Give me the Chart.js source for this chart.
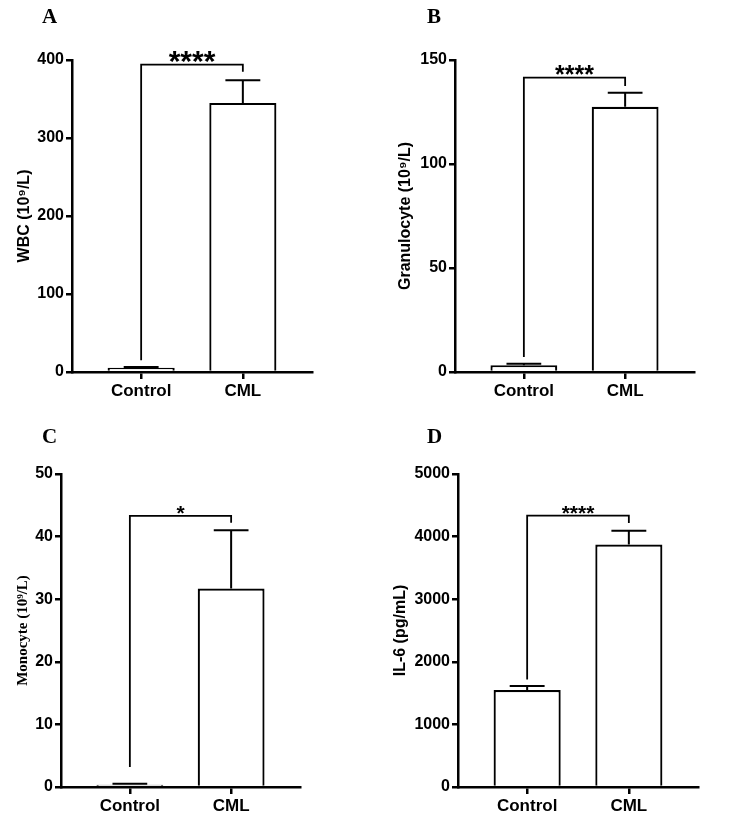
<!DOCTYPE html>
<html>
<head>
<meta charset="utf-8">
<script src="https://cdn.jsdelivr.net/npm/chart.js@4/dist/chart.umd.min.js"></script>
<style>
  body { margin: 0; background: #fff; }
  #wrap { position: relative; width: 750px; height: 824px; }
  .panel { position: absolute; }
  .letter { position: absolute; font: bold 21px "Liberation Serif", "Times New Roman", serif; color: #000; }
</style>
</head>
<body>
<div id="wrap">
  <canvas class="panel" id="chartA" width="375" height="410" style="left:0;top:0"></canvas>
  <canvas class="panel" id="chartB" width="375" height="410" style="left:375px;top:0"></canvas>
  <canvas class="panel" id="chartC" width="375" height="414" style="left:0;top:410px"></canvas>
  <canvas class="panel" id="chartD" width="375" height="414" style="left:375px;top:410px"></canvas>
  <div class="letter" style="left:42px;top:4px">A</div>
  <div class="letter" style="left:427px;top:4px">B</div>
  <div class="letter" style="left:42px;top:424px">C</div>
  <div class="letter" style="left:427px;top:424px">D</div>
</div>
<script>
// Data (mean and upper error)
const categories = ['Control', 'CML'];
const wbcMean = [5.5, 345];
const wbcErr = [1, 29];
const granMean = [3.3, 127.5];
const granErr = [0.7, 6.8];
const monoMean = [0.35, 31.7];
const monoErr = [0.15, 9.3];
const il6Mean = [1550, 3875];
const il6Err = [62, 220];

const yTitles = ['WBC (10⁹/L)', 'Granulocyte (10⁹/L)', 'Monocyte (10⁹/L)', 'IL-6 (pg/mL)'];
const yMax = [400, 150, 50, 5000];
const yStep = [100, 50, 10, 1000];

// significance brackets (in data units)
const sigLabels = ['****', '****', '*', '****'];
const sigTop = [394, 141.5, 43.3, 4334];
const sigLegLeft = [15, 7.2, 3.2, 1719];
const sigLegRight = [385, 137.5, 42.2, 4216];

// layout of each panel: chart area in canvas px
const panels = [
  { id: 'chartA', area: [72, 60, 312, 372], titlePad: 15, titleFont: 'sans', starSize: 30 },
  { id: 'chartB', area: [80, 60, 319, 372], titlePad: 21, titleFont: 'sans', starSize: 25 },
  { id: 'chartC', area: [61, 64, 300, 377], titlePad: 14, titleFont: 'serif', starSize: 21 },
  { id: 'chartD', area: [83, 64, 323, 377], titlePad: 16, titleFont: 'sans', starSize: 21 }
];
const means = [wbcMean, granMean, monoMean, il6Mean];
const errs = [wbcErr, granErr, monoErr, il6Err];

const SANS = '"Liberation Sans", Arial, sans-serif';
const SERIF = '"Liberation Serif", "Times New Roman", serif';

const errorBarPlugin = {
  id: 'errorBars',
  afterDatasetsDraw(chart, args, opts) {
    const ctx = chart.ctx;
    const y = chart.scales.y;
    const x = chart.scales.x;
    const meta = chart.getDatasetMeta(0);
    ctx.save();
    ctx.strokeStyle = '#000';
    ctx.lineWidth = 2;
    meta.data.forEach((bar, i) => {
      const yTop = y.getPixelForValue(opts.mean[i] + opts.err[i]);
      const half = bar.width * 0.26;
      ctx.beginPath();
      ctx.moveTo(bar.x, bar.y);
      ctx.lineTo(bar.x, yTop);
      ctx.moveTo(bar.x - half, yTop);
      ctx.lineTo(bar.x + half, yTop);
      ctx.stroke();
    });

    // significance bracket
    const xl = x.getPixelForValue(0);
    const xr = x.getPixelForValue(1);
    const yt = y.getPixelForValue(opts.top);
    ctx.lineWidth = 1.8;
    ctx.beginPath();
    ctx.moveTo(xl, y.getPixelForValue(opts.legLeft));
    ctx.lineTo(xl, yt);
    ctx.lineTo(xr, yt);
    ctx.lineTo(xr, y.getPixelForValue(opts.legRight));
    ctx.stroke();

    ctx.fillStyle = '#000';
    ctx.font = 'bold ' + opts.starSize + 'px ' + SANS;
    ctx.textAlign = 'center';
    ctx.textBaseline = 'alphabetic';
    ctx.fillText(opts.label, (xl + xr) / 2, yt + opts.starSize * 0.2);
    ctx.restore();
  }
};

panels.forEach((p, k) => {
  const canvas = document.getElementById(p.id);
  const w = canvas.width, h = canvas.height;
  const [aLeft, aTop, aRight, aBottom] = p.area;

  new Chart(canvas, {
    type: 'bar',
    data: {
      datasets: [{
        data: means[k].map((v, i) => ({ x: i, y: v })),
        backgroundColor: '#fff',
        borderColor: '#000',
        borderWidth: 2.2,
        barPercentage: 0.66,
        categoryPercentage: 1
      }]
    },
    plugins: [errorBarPlugin],
    options: {
      responsive: false,
      animation: false,
      layout: { padding: { top: aTop, right: w - aRight, left: 0, bottom: 0 } },
      plugins: {
        legend: { display: false },
        tooltip: { enabled: false },
        errorBars: {
          mean: means[k], err: errs[k],
          top: sigTop[k], legLeft: sigLegLeft[k], legRight: sigLegRight[k],
          label: sigLabels[k], starSize: p.starSize
        }
      },
      scales: {
        x: {
          type: 'linear',
          offset: false,
          min: -0.68,
          max: 1.68,
          afterBuildTicks: s => { s.ticks = categories.map((c, i) => ({ value: i })); },
          afterFit: s => { s.height = h - aBottom; },
          border: { display: true, color: '#000', width: 2.5 },
          grid: { display: true, offset: false, drawOnChartArea: false, drawTicks: true, tickLength: 7, color: '#000', lineWidth: 2.5 },
          ticks: {
            color: '#000',
            padding: 2,
            maxRotation: 0,
            font: { family: SANS, size: 17, weight: 'bold' },
            callback: v => categories[v]
          }
        },
        y: {
          min: 0,
          max: yMax[k],
          afterFit: s => { s.width = aLeft; },
          border: { display: true, color: '#000', width: 2.5 },
          grid: { display: true, drawOnChartArea: false, drawTicks: true, tickLength: 6, color: '#000', lineWidth: 2.5 },
          ticks: {
            stepSize: yStep[k],
            color: '#000',
            padding: 2,
            font: { family: SANS, size: 16, weight: 'bold' },
            callback: v => String(v)
          },
          title: {
            display: true,
            text: yTitles[k],
            color: '#000',
            padding: { top: p.titlePad, bottom: 0 },
            font: p.titleFont === 'serif'
              ? { family: SERIF, size: 15, weight: 'bold' }
              : { family: SANS, size: 16, weight: 'bold' }
          }
        }
      }
    }
  });
});
</script>
</body>
</html>
